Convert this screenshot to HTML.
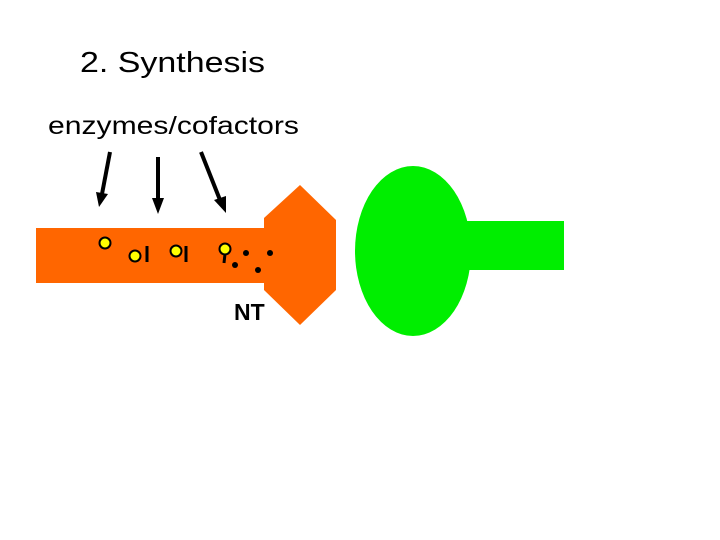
<!DOCTYPE html>
<html><head><style>body{margin:0;background:#fff}svg{display:block}</style></head><body>
<svg width="720" height="540" xmlns="http://www.w3.org/2000/svg">
<text x="80" y="72" font-family="Liberation Sans, sans-serif" font-size="29" textLength="185" lengthAdjust="spacingAndGlyphs" fill="#000">2. Synthesis</text>
<text x="48" y="134" font-family="Liberation Sans, sans-serif" font-size="25" textLength="251" lengthAdjust="spacingAndGlyphs" fill="#000">enzymes/cofactors</text>
<g stroke="#000" stroke-width="4"><line x1="110" y1="152" x2="102" y2="194"/><line x1="158" y1="157" x2="158" y2="200"/><line x1="201" y1="152" x2="220" y2="200"/></g>
<g fill="#000"><polygon points="96,192 108,194 99,207"/><polygon points="152,198 164,198 158,214"/><polygon points="214,200 226,196 226,213"/></g>
<rect x="36" y="228" width="232" height="55" fill="#ff6600"/>
<polygon points="264,218 300,185 336,220 336,290 300,325 264,290" fill="#ff6600"/>
<ellipse cx="413" cy="251" rx="58" ry="85" fill="#00ee00"/>
<rect x="462" y="221" width="102" height="49" fill="#00ee00"/>
<g fill="#ffff00" stroke="#000" stroke-width="2"><circle cx="105" cy="243" r="5.5"/><circle cx="135" cy="256" r="5.5"/><circle cx="176" cy="251" r="5.5"/><circle cx="225" cy="249" r="5.5"/></g>
<g stroke="#000" stroke-width="3"><line x1="147" y1="246" x2="147" y2="262"/><line x1="186" y1="246" x2="186" y2="262"/><line x1="225" y1="254" x2="224" y2="263"/></g>
<g fill="#000"><circle cx="235" cy="265" r="3"/><circle cx="246" cy="253" r="3"/><circle cx="258" cy="270" r="3"/><circle cx="270" cy="253" r="3"/></g>
<text x="234" y="320" font-family="Liberation Sans, sans-serif" font-weight="bold" font-size="23" fill="#000">NT</text>
</svg>
</body></html>
